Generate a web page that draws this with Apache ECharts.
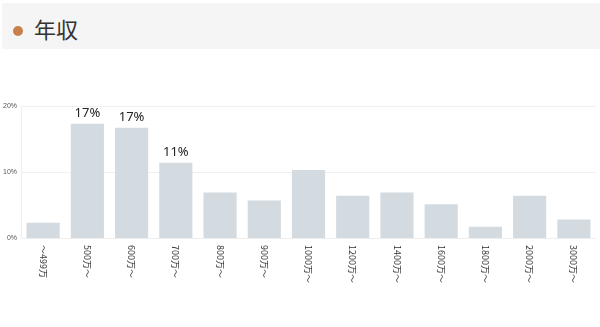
<!DOCTYPE html>
<html><head><meta charset="utf-8">
<script src="https://cdn.jsdelivr.net/npm/echarts@6/dist/echarts.min.js"></script>
<style>
html,body{margin:0;padding:0;background:#fff;width:600px;height:327px;overflow:hidden;font-family:"Noto Sans CJK JP","Noto Sans",sans-serif;}
#hdr{position:absolute;left:2px;top:3px;width:598px;height:46px;background:#f5f5f5;}
#dot{position:absolute;left:11px;top:23px;width:10px;height:10px;border-radius:50%;background:#c8814a;}
#ttl{position:absolute;left:32px;top:10px;font-size:22px;line-height:30px;color:#333;}
#c{position:absolute;left:0;top:0;width:600px;height:327px;}
</style></head>
<body>
<div id="hdr"><div id="dot"></div><div id="ttl">年収</div></div>
<div id="c"></div>
<script>
const categories = ['～499万','500万～','600万～','700万～','800万～','900万～','1000万～','1200万～','1400万～','1600万～','1800万～','2000万～','3000万～'];
const values = [2.3, 17.3, 16.7, 11.4, 6.9, 5.7, 10.3, 6.4, 6.9, 5.1, 1.7, 6.4, 2.8];
const yTicks = [0, 10, 20];

const sorted = values.slice().sort((a,b)=>b-a);
const threshold = sorted[2];

const chart = echarts.init(document.getElementById('c'), null, {renderer:'canvas'});
chart.setOption({
  animation:false,
  grid:{left:21, right:4, top:106, bottom:89, containLabel:false},
  xAxis:{
    type:'category', data:categories,
    axisLine:{show:true, lineStyle:{color:'#eeeeee'}},
    axisTick:{show:false},
    axisLabel:{rotate:-90, fontSize:9, color:'#333', margin:7, interval:0,
      fontFamily:'"Noto Sans CJK JP", sans-serif'}
  },
  yAxis:{
    type:'value', min:yTicks[0], max:yTicks[yTicks.length-1], interval:10,
    axisLine:{show:true, lineStyle:{color:'#eeeeee'}},
    axisTick:{show:false},
    splitLine:{lineStyle:{color:'#f0f0f0'}},
    axisLabel:{formatter:'{value}%', fontSize:7, color:'#555', margin:4}
  },
  series:[{
    type:'bar', data:values, barCategoryGap:'25%',
    itemStyle:{color:'#d3dbe1'},
    label:{show:true, position:'top', fontSize:13, color:'#222', distance:4,
      fontFamily:'"Noto Sans", sans-serif',
      formatter:p=> p.value>=threshold ? Math.round(p.value)+'%' : ''}
  }]
});
</script>
</body></html>
